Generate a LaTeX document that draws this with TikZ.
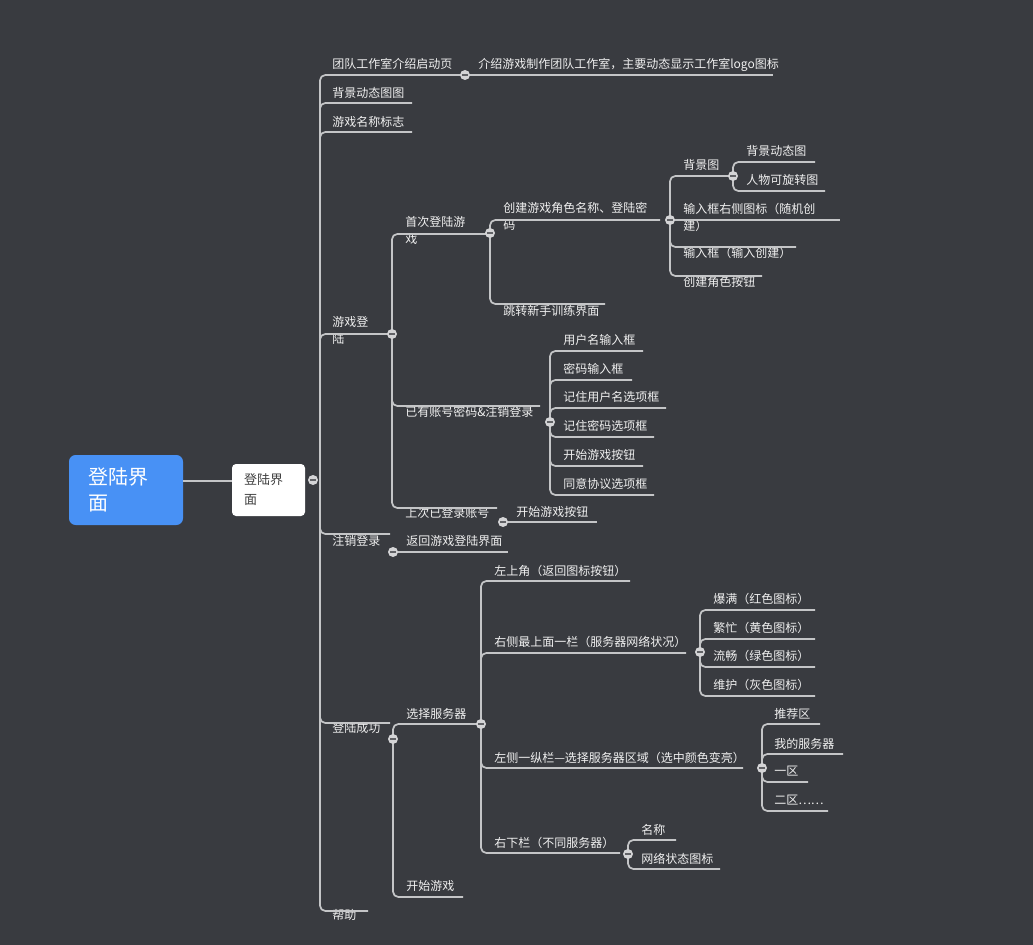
\documentclass[tikz,border=0pt]{standalone}
\usepackage{fontspec}
\setmainfont{Noto Sans CJK SC}
\definecolor{bgc}{RGB}{57,59,64}
\definecolor{lnc}{RGB}{196,197,199}
\definecolor{txc}{RGB}{240,240,240}
\definecolor{rootc}{RGB}{72,145,245}
\definecolor{knobc}{RGB}{212,212,214}
% #1 text offset above line, #2 name, #3 text x, #4 line y, #5 line end x, #6 text
\newcommand{\topic}[6][10.5]{%
	\node[tp] (#2) at (#3,{#4-(#1)}) {#6};
	\coordinate (#2-e) at (#5,#4);}

\begin{document}
\begin{tikzpicture}[x=0.75pt, y=-0.75pt,
		tp/.style={anchor=west, inner sep=0pt, text=txc, align=left, font=\fontsize{9}{12.75}\selectfont},
		br/.style={draw=lnc, line width=1.3pt, rounded corners=4pt, to path={|- (\tikztotarget)}},
		st/.style={draw=lnc, line width=1.3pt},
		knob/.style={circle, fill=knobc, minimum size=7.5pt, inner sep=0pt,
			path picture={\draw[bgc!80, line width=1pt] ([xshift=-2pt]path picture bounding box.center) -- ([xshift=2pt]path picture bounding box.center);}},
		rootbox/.style={fill=rootc, rounded corners=5pt, text=white, align=left, text width=57pt, inner xsep=14.25pt, minimum height=52.5pt, font=\fontsize{15}{19.5}\selectfont},
		mainbox/.style={fill=white, rounded corners=3pt, text=black!75, align=left, text width=36.75pt, inner xsep=9pt, minimum height=39pt, font=\fontsize{9.75}{15}\selectfont}]
	\fill[bgc] (0,0) rectangle (1033,945);

	\node[rootbox] (root) at (126,490) {登陆界\\面};
	\node[mainbox] (main) at (268.5,490) {登陆界\\面};
	\draw[st] ([yshift=6.75pt]root.east) -- ([yshift=6.75pt]main.west);

	% knob positions
	\coordinate (c0) at (313,480); \coordinate (s0) at (320,480);
	\coordinate (ca1) at (465,75); \coordinate (ca4) at (392,334);
	\coordinate (ca5) at (393,552); \coordinate (ca6) at (393,739);
	\coordinate (cb1) at (490,233); \coordinate (cb2) at (550,422);
	\coordinate (cb3) at (503,522); \coordinate (cc1) at (670,220);
	\coordinate (cd1) at (733,176); \coordinate (cg1) at (481,724);
	\coordinate (ch2) at (700,652); \coordinate (ch3) at (762,768);
	\coordinate (ch4) at (628,854);

	% first level
	\topic[11]{a1}{332}{75}{463}{团队工作室介绍启动页}
	\topic{a1a}{478}{75}{773}{介绍游戏制作团队工作室，主要动态显示工作室logo图标}
	\topic{a2}{332}{103}{412}{背景动态图图}
	\topic{a3}{332}{132}{412}{游戏名称标志}
	\topic[3.25]{a4}{332}{334}{392}{游戏登\\陆}
	\topic[-7]{a5}{332}{534}{390}{注销登录}
	\topic[11]{a5a}{406}{552}{508}{返回游戏登陆界面}
	\topic[-5]{a6}{332}{723}{390}{登陆成功}
	\topic[-4]{a7}{332}{911}{368}{帮助}

	% 游戏登陆
	\topic[3.25]{b1}{405}{234}{490}{首次登陆游\\戏}
	\topic[-6]{b2}{405}{406}{540}{已有账号密码\&注销登录}
	\topic[-5]{b3}{405}{508}{497}{上次已登录账号}
	\topic[10]{b3a}{516}{522}{597}{开始游戏按钮}
	\topic[4]{c1}{503}{220}{660}{创建游戏角色名称、登陆密\\码}
	\topic[-7]{c2}{503}{304}{605}{跳转新手训练界面}
	\topic[11]{d1}{683}{176}{735}{背景图}
	\topic[3]{d2}{683}{220}{840}{输入框右侧图标（随机创\\建）}
	\topic[-6]{d3}{683}{247}{796}{输入框（输入创建）}
	\topic[-6]{d4}{683}{276}{762}{创建角色按钮}
	\topic[11]{e1}{746}{162}{815}{背景动态图}
	\topic[11]{e2}{746}{191}{825}{人物可旋转图}
	\topic[11]{f1}{563}{351}{643}{用户名输入框}
	\topic[11]{f2}{563}{380}{632}{密码输入框}
	\topic[11]{f3}{563}{408}{666}{记住用户名选项框}
	\topic[11]{f4}{563}{437}{654}{记住密码选项框}
	\topic[11]{f5}{563}{466}{643}{开始游戏按钮}
	\topic[11]{f6}{563}{495}{654}{同意协议选项框}

	% 登陆成功
	\topic{g1}{406}{724}{481}{选择服务器}
	\topic[11]{g2}{406}{897}{463}{开始游戏}
	\topic{h1}{494}{581}{630}{左上角（返回图标按钮）}
	\topic[11]{h2}{494}{653}{686}{右侧最上面一栏（服务器网络状况）}
	\topic{h3}{494}{768}{743}{左侧一纵栏—选择服务器区域（选中颜色变亮）}
	\topic{h4}{494}{853}{620}{右下栏（不同服务器）}
	\topic[11]{i1}{713}{610}{815}{爆满（红色图标）}
	\topic[11]{i2}{713}{639}{815}{繁忙（黄色图标）}
	\topic[11]{i3}{713}{667}{815}{流畅（绿色图标）}
	\topic[11]{i4}{713}{696}{815}{维护（灰色图标）}
	\topic{j1}{774}{724}{820}{推荐区}
	\topic{j2}{774}{754}{843}{我的服务器}
	\topic{j3}{774}{782}{808}{一区}
	\topic{j4}{774}{811}{828}{二区……}
	\topic{k1}{641}{840}{676}{名称}
	\topic{k2}{641}{869}{720}{网络状态图标}

	\path[br]
		(s0) edge (a1-e) edge (a2-e) edge (a3-e) edge (a4-e) edge (a5-e) edge (a6-e) edge (a7-e)
		(ca4) edge (b1-e) edge (b2-e) edge (b3-e)
		(cb1) edge (c1-e) edge (c2-e)
		(cc1) edge (d1-e) edge (d3-e) edge (d4-e)
		(cd1) edge (e1-e) edge (e2-e)
		(cb2) edge (f1-e) edge (f2-e) edge (f3-e) edge (f4-e) edge (f5-e) edge (f6-e)
		(ca6) edge (g1-e) edge (g2-e)
		(cg1) edge (h1-e) edge (h2-e) edge (h3-e) edge (h4-e)
		(ch2) edge (i1-e) edge (i2-e) edge (i3-e) edge (i4-e)
		(ch3) edge (j1-e) edge (j2-e) edge (j3-e) edge (j4-e)
		(ch4) edge (k1-e) edge (k2-e);
	\path[st]
		(ca1) edge (a1a-e) (ca5) edge (a5a-e) (cb3) edge (b3a-e)
		(cc1) edge (d2-e);

	\foreach \c in {c0,ca1,ca4,ca5,ca6,cb1,cb2,cb3,cc1,cd1,cg1,ch2,ch3,ch4}
		\node[knob] (k-\c) at (\c) {};
\end{tikzpicture}
\end{document}
